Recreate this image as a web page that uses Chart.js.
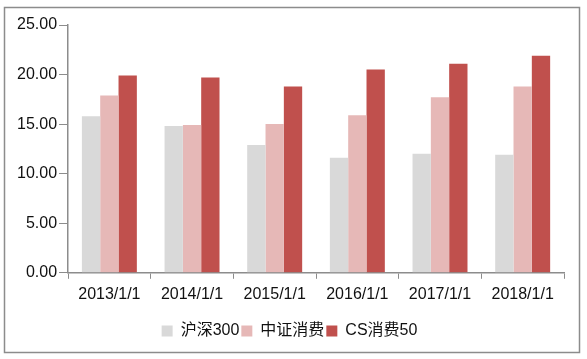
<!DOCTYPE html>
<html>
<head>
<meta charset="utf-8">
<script src="https://cdn.jsdelivr.net/npm/chart.js@4"></script>
<style>
  body { margin: 0; background: #fff; }
</style>
</head>
<body>
<canvas id="myChart" width="587" height="359"></canvas>
<script>
const ctx = document.getElementById("myChart");

const categories = ['2013/1/1', '2014/1/1', '2015/1/1', '2016/1/1', '2017/1/1', '2018/1/1'];
const hs300 = [15.8, 14.8, 12.9, 11.6, 12.0, 11.9];
const zzxf = [17.9, 14.9, 15.0, 15.9, 17.7, 18.8];
const cs50 = [19.9, 19.7, 18.8, 20.5, 21.1, 21.9];
const yTicks = [0, 5, 10, 15, 20, 25];

const font = { family: "'Liberation Sans', Arial, 'Noto Sans CJK SC', sans-serif", size: 16 };

// gray frame round the whole chart
const frame = {
  id: 'frame',
  beforeDraw(chart) {
    const c = chart.ctx;
    c.save();
    c.fillStyle = '#fff';
    c.fillRect(0, 0, chart.width, chart.height);
    c.strokeStyle = '#8c8c8c';
    c.lineWidth = 1.5;
    c.strokeRect(4.5, 7.5, 575, 345);
    c.restore();
  }
};

new Chart(ctx, {
  type: 'bar',
  data: {
    labels: categories,
    datasets: [
      { label: '沪深300', data: hs300, backgroundColor: '#D9D9D9', borderWidth: 0 },
      { label: '中证消费', data: zzxf, backgroundColor: '#E6B8B7', borderWidth: 0 },
      { label: 'CS消费50', data: cs50, backgroundColor: '#C0504D', borderWidth: 0 }
    ]
  },
  options: {
    responsive: false,
    animation: false,
    layout: { padding: { left: 15, right: 23, top: 25, bottom: 10 } },
    datasets: { bar: { categoryPercentage: 0.665, barPercentage: 1 } },
    plugins: {
      legend: {
        position: 'bottom',
        labels: { font: font, color: '#111', boxWidth: 11, boxHeight: 11, padding: 2 }
      },
      tooltip: { enabled: false }
    },
    scales: {
      x: {
        afterFit(scale) { scale.height += 11; },
        grid: { offset: true, drawOnChartArea: false, color: '#8c8c8c', tickLength: 6 },
        border: { color: '#8c8c8c', width: 1.5 },
        ticks: { font: font, color: '#111', padding: 6, maxRotation: 0 }
      },
      y: {
        min: 0,
        max: 25,
        afterBuildTicks(scale) { scale.ticks = yTicks.map(v => ({ value: v })); },
        grid: { drawOnChartArea: false, color: '#8c8c8c', tickLength: 9 },
        border: { color: '#8c8c8c', width: 1.5 },
        ticks: { font: font, color: '#111', padding: 2, callback: v => v.toFixed(2) }
      }
    }
  },
  plugins: [frame]
});
</script>
</body>
</html>
